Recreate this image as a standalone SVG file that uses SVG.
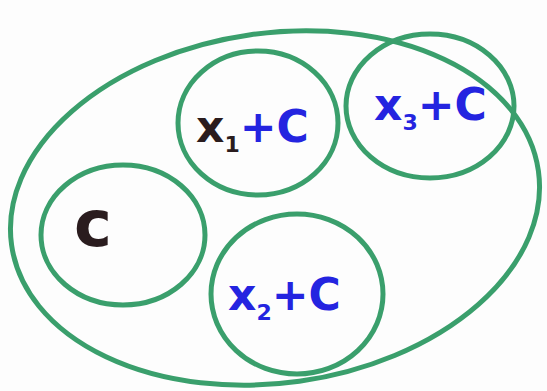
<svg xmlns="http://www.w3.org/2000/svg" width="547" height="391" viewBox="0 0 547 391">
<style>
.ring{fill:none;stroke:#3a9f6c;stroke-width:5}
.t{font-family:"DejaVu Sans",sans-serif;font-weight:bold}
.b{fill:#2424e0}
.k{fill:#2a1c1e}
</style>
<rect width="547" height="391" fill="#fdfdfd"/>
<g id="outer"><ellipse class="ring" cx="275" cy="208" rx="266" ry="175" transform="rotate(-8 275 208)"/></g>
<g id="n1">
<ellipse class="ring" cx="258" cy="123" rx="80" ry="72"/>
<text class="t" x="196" y="142" font-size="44"><tspan class="k">x</tspan><tspan class="k" font-size="22" dy="10">1</tspan><tspan class="b" dy="-10">+C</tspan></text>
</g>
<g id="n3">
<ellipse class="ring" cx="430" cy="106" rx="84" ry="72"/>
<text class="t b" x="374" y="120" font-size="44">x<tspan font-size="22" dy="10">3</tspan><tspan dy="-10">+C</tspan></text>
</g>
<g id="n0">
<ellipse class="ring" cx="123" cy="235" rx="82" ry="70"/>
<text class="t k" x="74" y="246" font-size="64">c</text>
</g>
<g id="n2">
<ellipse class="ring" cx="297" cy="294" rx="86" ry="80"/>
<text class="t b" x="228" y="310" font-size="44">x<tspan font-size="22" dy="10">2</tspan><tspan dy="-10">+C</tspan></text>
</g>
<g id="connectors"></g>
</svg>
